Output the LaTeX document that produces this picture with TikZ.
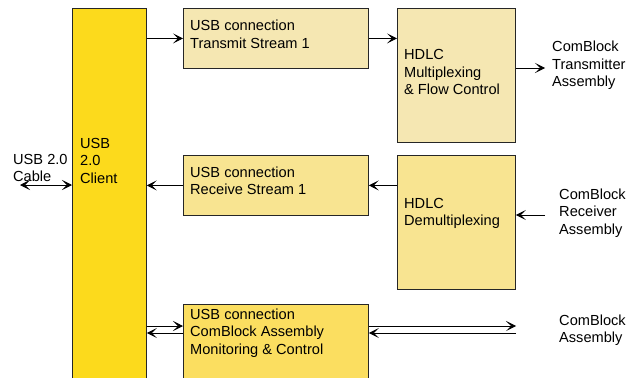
\documentclass[tikz,border=0pt]{standalone}
\usepackage{fontspec}
\setmainfont{Liberation Sans}
\usepackage{xcolor}
\usetikzlibrary{arrows.meta}

\definecolor{clientfill}{RGB}{252,218,28}
\definecolor{txfill}{RGB}{245,231,178}
\definecolor{rxfill}{RGB}{248,228,145}
\definecolor{monfill}{RGB}{251,222,96}

\begin{document}
\begin{tikzpicture}[x=1pt,y=-1pt, >={Stealth[length=10pt,width=10pt,inset=5pt]},
	box/.style={draw=black!85, line width=0.8pt, anchor=north west, inner sep=0pt},
	txt/.style={anchor=base west, align=left, inner sep=0pt, font=\fontsize{14.6}{17.5}\selectfont},
	arr/.style={->, line width=0.8pt}]
				\clip (0,0) rectangle (639,377);
	
				\node[box, fill=clientfill, minimum width=74, minimum height=400] (client) at (72,8) {};
				\node[box, fill=txfill, minimum width=185, minimum height=60] (txusb) at (183,8) {};
				\node[box, fill=txfill, minimum width=118, minimum height=134] (mux) at (397,8) {};
				\node[box, fill=rxfill, minimum width=185, minimum height=60] (rxusb) at (183,155) {};
				\node[box, fill=rxfill, minimum width=118, minimum height=134] (demux) at (397,155) {};
				\node[box, fill=monfill, minimum width=185, minimum height=100] (mon) at (183,304) {};
	
				\node[txt] (clienttext) at ([shift={(8,175)}]client.north west) {USB\\2.0\\Client};
				\node[txt] (txtext) at ([shift={(7,40.5)}]txusb.north west) {USB connection\\Transmit Stream 1};
				\node[txt] (muxtext) at ([shift={(7,87)}]mux.north west) {HDLC\\Multiplexing\\\& Flow Control};
				\node[txt] (rxtext) at ([shift={(7,39.5)}]rxusb.north west) {USB connection\\Receive Stream 1};
				\node[txt] (demuxtext) at ([shift={(7,70.5)}]demux.north west) {HDLC\\Demultiplexing};
				\node[txt] (montext) at ([shift={(7,50)}]mon.north west) {USB connection\\ComBlock Assembly\\Monitoring \& Control};
	
				\node[txt] (cable) at (13,181.5) {USB 2.0\\Cable};
				\node[txt] (txasm) at (552,87) {ComBlock\\Transmitter\\Assembly};
				\node[txt] (rxasm) at (559,234) {ComBlock\\Receiver\\Assembly};
				\node[txt] (asm) at (559,342.5) {ComBlock\\Assembly};
	
				\coordinate (cableend) at (20,185);
				\coordinate (txout) at (545,68);
				\coordinate (rxin) at (545,215);
				\coordinate (asmout) at (516,326);
				\coordinate (asmin) at (516,333);
	
				\draw[arr] (client.east |- txusb.west) -- (txusb.west);
				\draw[arr] (txusb.east) -- (txusb.east -| mux.west);
				\draw[arr] (mux.east |- txout) -- (txout);
				\draw[arr] (rxin) -- (rxin -| demux.east);
				\draw[arr] (demux.west |- rxusb.east) -- (rxusb.east);
				\draw[arr] (rxusb.west) -- (rxusb.west -| client.east);
				\draw[arr, <->] (cableend) -- (cableend -| client.west);
				\draw[arr] (client.east |- asmout) -- (mon.west |- asmout);
				\draw[arr] (mon.west |- asmin) -- (client.east |- asmin);
				\draw[arr] (mon.east |- asmout) -- (asmout);
				\draw[arr] (asmin) -- (mon.east |- asmin);
			\end{tikzpicture}
\end{document}
